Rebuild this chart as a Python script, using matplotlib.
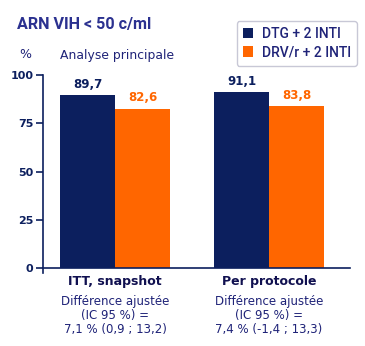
import matplotlib
matplotlib.use("Agg")
import matplotlib.pyplot as plt
from matplotlib.patches import Patch

W, H = 365, 346
categories = ["ITT, snapshot", "Per protocole"]
series_names = ["DTG + 2 INTI", "DRV/r + 2 INTI"]
dtg = [89.7, 91.1]
drv = [82.6, 83.8]
dtg_labels = ["89,7", "91,1"]
drv_labels = ["82,6", "83,8"]
sub_lines = [["Différence ajustée", "(IC 95 %) =", "7,1 % (0,9 ; 13,2)"],
             ["Différence ajustée", "(IC 95 %) =", "7,4 % (-1,4 ; 13,3)"]]
yticks = [0, 25, 50, 75, 100]

navy = "#0c1f5e"
txt = "#1f2378"
orange = "#ff6600"
title_c = "#2b3190"

fig = plt.figure(figsize=(W / 100, H / 100), dpi=100)
fig.patch.set_facecolor("white")

def fx(px):
    return px / W

def fy(py):
    return 1 - py / H

ax_l, ax_r, ax_t, ax_b = 43, 350, 75, 268
ax = fig.add_axes([fx(ax_l), fy(ax_b), (ax_r - ax_l) / W, (ax_b - ax_t) / H])
ax.set_xlim(0, ax_r - ax_l)
ax.set_ylim(0, 100)

centers = [72, 226]
bw = 55
for i, c in enumerate(centers):
    ax.bar(c - bw / 2, dtg[i], width=bw, color=navy, zorder=2)
    ax.bar(c + bw / 2, drv[i], width=bw, color=orange, zorder=2)
    ax.text(c - bw / 2, dtg[i] + 5.5, dtg_labels[i], ha="center", va="center",
            fontsize=8.5, fontweight="bold", color=navy)
    ax.text(c + bw / 2, drv[i] + 5.5, drv_labels[i], ha="center", va="center",
            fontsize=8.5, fontweight="bold", color=orange)

for s in ["top", "right"]:
    ax.spines[s].set_visible(False)
for s in ["left", "bottom"]:
    ax.spines[s].set_color(navy)
    ax.spines[s].set_linewidth(1.2)
ax.spines["left"].set_bounds(-2.5, 100)
ax.set_yticks(yticks)
ax.set_yticklabels([str(v) for v in yticks], fontsize=8, fontweight="bold", color=navy)
ax.tick_params(axis="y", length=5, width=1.2, color=navy, direction="out", pad=2)
ax.set_xticks([])
ax.patch.set_alpha(0)

# titles
fig.text(fx(17), fy(25), "ARN VIH < 50 c/ml", fontsize=11.6, fontweight="bold",
         family="Roboto", color=title_c, ha="left", va="center")
fig.text(fx(25), fy(55), "%", fontsize=9, color=txt, ha="center", va="center")
fig.text(fx(60), fy(56), "Analyse principale", fontsize=8.9, color=txt,
         ha="left", va="center")

# bottom labels
for i, c in enumerate(centers):
    xc = fx(ax_l + c)
    fig.text(xc, fy(282), categories[i], fontsize=9, fontweight="bold",
             color="#101050", ha="center", va="center")
    for j, line in enumerate(sub_lines[i]):
        fig.text(xc, fy(302 + j * 14), line, fontsize=8.5, color=txt,
                 ha="center", va="center")

handles = [Patch(facecolor=navy, edgecolor="none"), Patch(facecolor=orange, edgecolor="none")]
leg = fig.legend(handles, series_names, loc="upper right",
                 bbox_to_anchor=(fx(357), fy(21)), borderaxespad=0,
                 prop={"family": "Roboto", "size": 10, "weight": "medium"},
                 handlelength=0.75, handleheight=0.75, handletextpad=0.6,
                 labelspacing=0.3, borderpad=0.45, frameon=True, fancybox=True,
                 edgecolor="#c8c8d6", framealpha=1)
for t in leg.get_texts():
    t.set_color(txt)
leg.get_frame().set_linewidth(1.0)

fig.savefig("out.png", dpi=100, facecolor="white")
